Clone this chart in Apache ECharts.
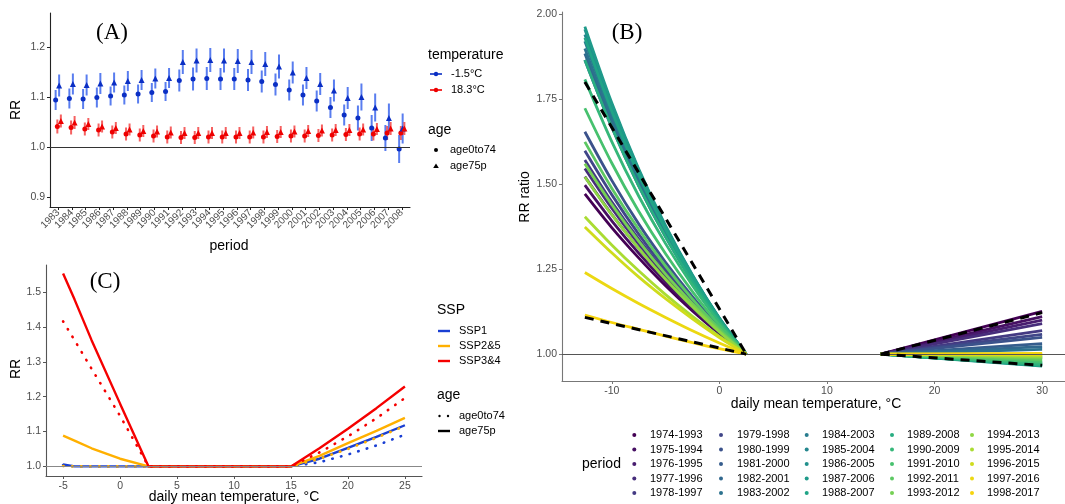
<!DOCTYPE html>
<html><head><meta charset="utf-8">
<script src="https://cdn.jsdelivr.net/npm/echarts@6/dist/echarts.min.js"></script>
<style>html,body{margin:0;padding:0;background:#fff}#c{width:1065px;height:504px}</style>
</head><body><div id="c"></div><script>
// ---------- Panel A data ----------
const years = [1983,1984,1985,1986,1987,1988,1989,1990,1991,1992,1993,1994,1995,1996,1997,1998,1999,2000,2001,2002,2003,2004,2005,2006,2007,2008];
const rrBlueAge0  = [1.095,1.098,1.097,1.100,1.103,1.105,1.107,1.110,1.112,1.134,1.137,1.138,1.137,1.137,1.135,1.132,1.126,1.115,1.105,1.093,1.080,1.065,1.059,1.039,1.019,0.997];
const rrBlueAge75 = [1.124,1.127,1.125,1.128,1.130,1.133,1.135,1.138,1.139,1.171,1.174,1.175,1.174,1.173,1.171,1.167,1.162,1.150,1.139,1.127,1.114,1.099,1.101,1.080,1.059,1.038];
const rrRedAge0   = [1.042,1.040,1.037,1.035,1.031,1.027,1.025,1.023,1.021,1.020,1.020,1.021,1.021,1.021,1.021,1.021,1.022,1.023,1.023,1.024,1.025,1.026,1.027,1.027,1.029,1.029];
const rrRedAge75  = [1.053,1.050,1.047,1.042,1.039,1.036,1.033,1.032,1.030,1.029,1.029,1.029,1.029,1.029,1.030,1.031,1.031,1.032,1.033,1.034,1.035,1.035,1.036,1.037,1.038,1.038];
const ciBlueAge0  = [0.020,0.020,0.020,0.020,0.019,0.019,0.019,0.019,0.019,0.022,0.023,0.023,0.022,0.022,0.022,0.022,0.022,0.021,0.021,0.021,0.021,0.021,0.025,0.026,0.026,0.028];
const ciBlueAge75 = [0.022,0.021,0.021,0.021,0.020,0.020,0.020,0.020,0.020,0.024,0.024,0.024,0.024,0.024,0.024,0.024,0.024,0.022,0.022,0.022,0.022,0.022,0.027,0.028,0.029,0.030];
const ciRedAge0   = [0.014,0.014,0.013,0.013,0.013,0.013,0.013,0.013,0.013,0.013,0.013,0.013,0.013,0.013,0.013,0.013,0.013,0.013,0.013,0.013,0.013,0.013,0.013,0.013,0.014,0.014];
const ciRedAge75  = [0.013,0.013,0.012,0.012,0.012,0.012,0.012,0.012,0.012,0.012,0.012,0.012,0.012,0.012,0.012,0.012,0.012,0.012,0.012,0.012,0.012,0.012,0.012,0.012,0.013,0.013];
const ticksA = [0.9,1.0,1.1,1.2];

// ---------- Panel B data ----------
const periods = ['1974-1993','1975-1994','1976-1995','1977-1996','1978-1997','1979-1998','1980-1999','1981-2000','1982-2001','1983-2002','1984-2003','1985-2004','1986-2005','1987-2006','1988-2007','1989-2008','1990-2009','1991-2010','1992-2011','1993-2012','1994-2013','1995-2014','1996-2015','1997-2016','1998-2017'];
const periodColors = ['#440154','#471063','#481d6f','#472d7b','#443a83','#404688','#3b528b','#365d8d','#31688e','#2c728e','#287c8e','#24868e','#21908c','#1f9a8a','#20a486','#27ad81','#35b779','#47c16e','#5dc863','#75d054','#8fd744','#aadc32','#cfdc1c','#ecd812','#f7d40c'];
const tempCold = [-12.5,-10,-7.5,-5,-2.5,0,2.5];
const rrCold = [
 [1.471,1.372,1.283,1.201,1.127,1.060,1.0],
 [1.497,1.392,1.297,1.211,1.133,1.062,1.0],
 [1.522,1.411,1.311,1.221,1.139,1.065,1.0],
 [1.546,1.429,1.324,1.230,1.145,1.068,1.0],
 [1.571,1.448,1.338,1.239,1.150,1.070,1.0],
 [1.598,1.469,1.353,1.249,1.156,1.073,1.0],
 [1.654,1.511,1.383,1.270,1.169,1.078,1.0],
 [1.865,1.667,1.495,1.345,1.213,1.098,1.0],
 [1.884,1.681,1.505,1.351,1.217,1.100,1.0],
 [1.899,1.692,1.512,1.356,1.220,1.101,1.0],
 [1.920,1.707,1.523,1.363,1.224,1.103,1.0],
 [1.940,1.722,1.533,1.370,1.228,1.105,1.0],
 [1.955,1.733,1.541,1.375,1.231,1.106,1.0],
 [1.963,1.739,1.545,1.378,1.233,1.106,1.0],
 [1.930,1.715,1.528,1.366,1.226,1.104,1.0],
 [1.865,1.667,1.495,1.345,1.213,1.098,1.0],
 [1.808,1.625,1.465,1.325,1.202,1.093,1.0],
 [1.723,1.562,1.420,1.295,1.184,1.085,1.0],
 [1.624,1.488,1.367,1.259,1.162,1.075,1.0],
 [1.560,1.440,1.332,1.235,1.148,1.069,1.0],
 [1.521,1.410,1.311,1.220,1.139,1.065,1.0],
 [1.404,1.321,1.245,1.175,1.111,1.052,1.0],
 [1.374,1.298,1.227,1.163,1.104,1.049,1.0],
 [1.240,1.193,1.149,1.108,1.069,1.033,1.0],
 [1.115,1.093,1.073,1.053,1.034,1.016,1.0]
];
const tempHot = [15,30];
const rrHot = [
 [1.0,1.126],[1.0,1.110],[1.0,1.100],[1.0,1.090],[1.0,1.069],
 [1.0,1.058],[1.0,1.049],[1.0,1.031],[1.0,1.022],[1.0,1.014],
 [1.0,0.990],[1.0,0.975],[1.0,0.968],[1.0,0.965],[1.0,0.966],
 [1.0,0.968],[1.0,0.972],[1.0,0.978],[1.0,0.983],[1.0,0.988],
 [1.0,0.992],[1.0,0.995],[1.0,0.998],[1.0,1.000],[1.0,1.002]
];
const tempDashCold = [-12.5,2.5];
const rrDashColdHigh = [1.80,1.0];
const rrDashColdLow = [1.108,1.0];
const tempDashHot = [15,30];
const rrDashHotHigh = [1.0,1.122];
const rrDashHotLow = [1.0,0.967];
const ticksBx = [-10,0,10,20,30];
const ticksBy = [1.0,1.25,1.5,1.75,2.0];

// ---------- Panel C data ----------
const tempC = [-5,-4,-2.5,0,2.5,15,17.5,20,22.5,25];
const ssp1Age0   = [1.004,1.0,1.0,1.0,1.0,1.0,1.012,1.034,1.060,1.091];
const ssp1Age75  = [1.006,1.0,1.0,1.0,1.0,1.0,1.022,1.053,1.085,1.118];
const ssp25Age0  = [1.001,1.0,1.0,1.0,1.0,1.0,1.022,1.050,1.082,1.116];
const ssp25Age75 = [1.088,1.074,1.052,1.022,1.0,1.0,1.030,1.067,1.102,1.139];
const ssp34Age0  = [1.416,1.362,1.280,1.145,1.0,1.0,1.040,1.086,1.138,1.196];
const ssp34Age75 = [1.553,1.479,1.362,1.180,1.0,1.0,1.052,1.108,1.167,1.229];
const sspNames = ['SSP1','SSP2&5','SSP3&4'];
const sspColors = ['#1a3fd3','#ffb000','#f50000'];
const ticksCx = [-5,0,5,10,15,20,25];
const ticksCy = [1.0,1.1,1.2,1.3,1.4,1.5];

// ---------- build ----------
const SANS = 'Liberation Sans';
const SERIF = 'Liberation Serif';
const lab = {color:'#4d4d4d', fontSize:10.5, fontFamily:SANS};
const yearIdx = years.map((y,i)=>i);
const yearIdxEven = yearIdx.filter(i=>i%2===0);
const yearIdxOdd = yearIdx.filter(i=>i%2===1);

function zip(xs, ys){ return xs.map((x,i)=>[x, ys[i]]); }

const series = [];
const refLine = (color)=>({silent:true, symbol:['none','none'], label:{show:false},
  lineStyle:{color:color, width:1, type:'solid'}, data:[{yAxis:1}], animation:false});

// Panel A: error bars + points
const blueBar = '#2f5ceb', redBar = '#f23a3a';
function errBars(off, vals, ci, color){
  return {type:'custom', xAxisIndex:0, yAxisIndex:0, z:3,
    data: vals.map((v,i)=>[i+off, v-ci[i], v+ci[i]]),
    encode:{x:0, y:[1,2]},
    renderItem:(p, api)=>{
      const a = api.coord([api.value(0), api.value(1)]);
      const b = api.coord([api.value(0), api.value(2)]);
      return {type:'line', shape:{x1:a[0], y1:a[1], x2:b[0], y2:b[1]},
        style:{stroke:color, lineWidth:2, opacity:0.8}};
    }};
}
function pts(off, vals, color, sym, size){
  return {type:'scatter', xAxisIndex:0, yAxisIndex:0, z:4, symbol:sym, symbolSize:size,
    itemStyle:{color:color, opacity:1}, data: vals.map((v,i)=>[i+off, v])};
}
series.push({type:'line', xAxisIndex:0, yAxisIndex:0, data:[], markLine:refLine('#333')});
const offs = [-0.19,-0.065,0.065,0.19];
series.push(errBars(offs[0], rrBlueAge0, ciBlueAge0, blueBar));
series.push(errBars(offs[1], rrRedAge0, ciRedAge0, redBar));
series.push(errBars(offs[2], rrBlueAge75, ciBlueAge75, blueBar));
series.push(errBars(offs[3], rrRedAge75, ciRedAge75, redBar));
series.push(pts(offs[0], rrBlueAge0, '#0b2fc4', 'circle', 5));
series.push(pts(offs[1], rrRedAge0, '#ee0000', 'circle', 5));
series.push(pts(offs[2], rrBlueAge75, '#0b2fc4', 'triangle', 6));
series.push(pts(offs[3], rrRedAge75, '#ee0000', 'triangle', 6));

// Panel B
series.push({type:'line', xAxisIndex:1, yAxisIndex:1, data:[], z:1, markLine:refLine('#555')});
periods.forEach((p,i)=>{
  series.push({type:'line', name:p, xAxisIndex:1, yAxisIndex:1, smooth:0.3, showSymbol:false, symbol:'none',
    lineStyle:{color:periodColors[i], width:2.8}, data: zip(tempCold, rrCold[i])});
});
periods.forEach((p,i)=>{
  series.push({type:'line', name:p, xAxisIndex:1, yAxisIndex:1, showSymbol:false, symbol:'none',
    lineStyle:{color:periodColors[i], width:2.8}, data: zip(tempHot, rrHot[i])});
});
const dashStyle = {color:'#000', width:3, type:[9,7]};
[[tempDashCold, rrDashColdHigh],[tempDashCold, rrDashColdLow],[tempDashHot, rrDashHotHigh],[tempDashHot, rrDashHotLow]].forEach(d=>{
  series.push({type:'line', xAxisIndex:1, yAxisIndex:1, showSymbol:false, symbol:'none', z:5,
    lineStyle:dashStyle, data: zip(d[0], d[1])});
});

// Panel C
series.push({type:'line', xAxisIndex:2, yAxisIndex:2, data:[], z:1, markLine:refLine('#888')});
const cSets = [[ssp1Age0, ssp1Age75],[ssp25Age0, ssp25Age75],[ssp34Age0, ssp34Age75]];
cSets.forEach((s,k)=>{
  series.push({type:'line', name:sspNames[k]+' age0to74', xAxisIndex:2, yAxisIndex:2, showSymbol:false, symbol:'none',
    lineStyle:{color:sspColors[k], width:2.6, type:[0.5,8.5], cap:'round'}, data: zip(tempC, s[0])});
  series.push({type:'line', name:sspNames[k]+' age75p', xAxisIndex:2, yAxisIndex:2, showSymbol:false, symbol:'none',
    lineStyle:{color:sspColors[k], width:2.4}, data: zip(tempC, s[1])});
});

function vAxis(grid, min, max, ticks, fmt, axisColor, labelExtra, labelValues, showLine, showTick){
  return {gridIndex:grid, type:'value', min:min, max:max,
    axisLine:{show:showLine!==false, onZero:false, lineStyle:{color:axisColor, width:1.1}},
    axisTick:{show:showTick!==false, length:3, customValues:ticks, lineStyle:{color:axisColor}},
    axisLabel:Object.assign({customValues:labelValues||ticks, formatter:fmt, margin:5, showMinLabel:true, showMaxLabel:true, hideOverlap:false}, lab, labelExtra||{}),
    splitLine:{show:false}};
}

const graphic = [];
function T(text, x, y, size, opts){
  graphic.push(Object.assign({type:'text', x:x, y:y, silent:true,
    style:Object.assign({text:text, fontSize:size, fontFamily:SANS, fill:'#000', align:'left', verticalAlign:'middle'}, (opts&&opts.style)||{})},
    (opts&&opts.el)||{}));
}
// panel labels
T('(A)', 112, 33, 23, {style:{fontFamily:SERIF, align:'center'}});
T('(B)', 627, 33, 23, {style:{fontFamily:SERIF, align:'center'}});
T('(C)', 105, 282, 23, {style:{fontFamily:SERIF, align:'center'}});
// axis titles
T('RR', 16, 110, 14, {style:{align:'center'}, el:{rotation:Math.PI/2}});
T('period', 229, 246, 14, {style:{align:'center'}});
T('RR ratio', 525, 197, 14, {style:{align:'center'}, el:{rotation:Math.PI/2}});
T('daily mean temperature, °C', 816, 404, 14, {style:{align:'center'}});
T('RR', 16, 369, 14, {style:{align:'center'}, el:{rotation:Math.PI/2}});
T('daily mean temperature, °C', 234, 497, 14, {style:{align:'center'}});

// legend A
T('temperature', 428, 55, 14);
[['-1.5°C','#0b2fc4',74],['18.3°C','#ee0000',90]].forEach(r=>{
  graphic.push({type:'line', silent:true, shape:{x1:430,y1:r[2],x2:442,y2:r[2]}, style:{stroke:r[1], lineWidth:1.6}});
  graphic.push({type:'circle', silent:true, shape:{cx:436, cy:r[2], r:2.2}, style:{fill:r[1]}});
  T(r[0], 451, r[2], 11);
});
T('age', 428, 130, 14);
graphic.push({type:'circle', silent:true, shape:{cx:436, cy:150, r:2}, style:{fill:'#000'}});
T('age0to74', 450, 150, 11);
graphic.push({type:'polygon', silent:true, shape:{points:[[436,163.5],[438.8,168],[433.2,168]]}, style:{fill:'#000'}});
T('age75p', 450, 166, 11);

// legend C
T('SSP', 437, 310, 14);
[331,346,361].forEach((y,k)=>{
  graphic.push({type:'line', silent:true, shape:{x1:438,y1:y,x2:450,y2:y}, style:{stroke:sspColors[k], lineWidth:2.4}});
  T(sspNames[k], 459, y, 11);
});
T('age', 437, 395, 14);
[439.5,448].forEach(x=>graphic.push({type:'circle', silent:true, shape:{cx:x, cy:416, r:1.2}, style:{fill:'#000'}}));
T('age0to74', 459, 416, 11);
graphic.push({type:'line', silent:true, shape:{x1:438,y1:431,x2:450,y2:431}, style:{stroke:'#000', lineWidth:2.4}});
T('age75p', 459, 431, 11);

// legend B
T('period', 582, 464, 14);
const colDot = [634.3, 721, 806.7, 892, 972];
const colTxt = [650, 737, 822, 907, 987];
const rowY = [435, 449.5, 464, 478.5, 493];
periods.forEach((p,i)=>{
  const c = Math.floor(i/5), r = i%5;
  graphic.push({type:'circle', silent:true, shape:{cx:colDot[c], cy:rowY[r], r:2}, style:{fill:periodColors[i]}});
  T(p, colTxt[c], rowY[r], 11);
});

const yearFmt = v=>String(years[Math.round(v)]);
const xA1 = vAxis(0, -0.6, 25.6, yearIdx, yearFmt, '#222', {rotate:45, margin:4, fontSize:10}, yearIdxEven);
const xA2 = vAxis(0, -0.6, 25.6, yearIdx, yearFmt, '#222', {rotate:45, margin:4, fontSize:10}, yearIdxOdd, false, false);
xA1.position = 'bottom';
xA2.position = 'bottom'; xA2.offset = 0;

const option = {
  animation:false,
  backgroundColor:'#fff',
  grid:[
    {left:50, top:13, width:360, height:194},
    {left:562, top:12, width:509, height:369},
    {left:46, top:265, width:376, height:211}
  ],
  xAxis:[
    xA1,
    vAxis(1, -14.625, 32.125, ticksBx, v=>String(v), '#777'),
    vAxis(2, -6.5, 26.5, ticksCx, v=>String(v), '#555'),
    xA2
  ],
  yAxis:[
    vAxis(0, 0.881, 1.269, ticksA, v=>v.toFixed(1), '#222'),
    vAxis(1, 0.921, 2.006, ticksBy, v=>v.toFixed(2), '#777'),
    vAxis(2, 0.9725, 1.5775, ticksCy, v=>v.toFixed(1), '#555')
  ],
  series: series,
  graphic: graphic
};
const chart = echarts.init(document.getElementById('c'));
chart.setOption(option);
</script></body></html>
